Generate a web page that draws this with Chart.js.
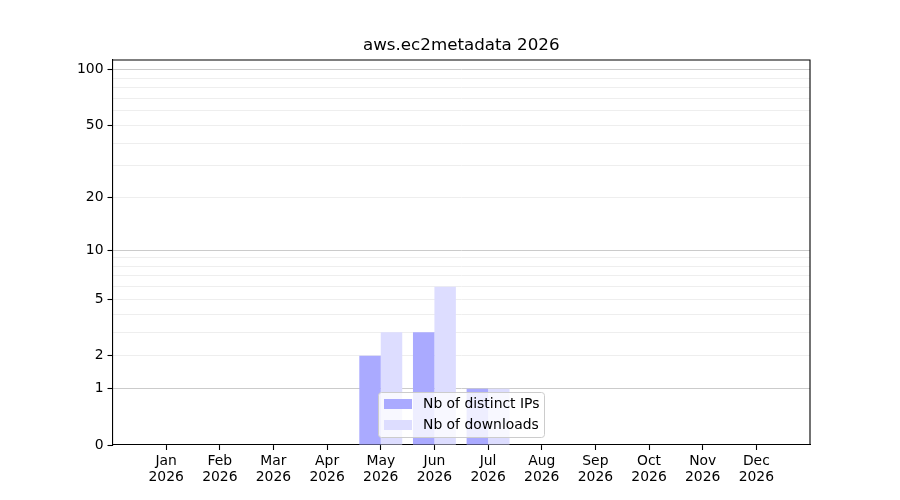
<!DOCTYPE html>
<html>
<head>
<meta charset="utf-8">
<script src="https://cdn.jsdelivr.net/npm/chart.js@4/dist/chart.umd.min.js"></script>
<style>
  html, body { margin: 0; padding: 0; background: #ffffff; }
  #wrap { width: 900px; height: 500px; }
</style>
</head>
<body>
<div id="wrap"><canvas id="c" width="900" height="500"></canvas></div>
<script>
// ---- data ----
const months = ['Jan', 'Feb', 'Mar', 'Apr', 'May', 'Jun', 'Jul', 'Aug', 'Sep', 'Oct', 'Nov', 'Dec'];
const yearLabel = '2026';
const titleText = 'aws.ec2metadata 2026';
const seriesNames = ['Nb of distinct IPs', 'Nb of downloads'];
const distinctIPs = [0, 0, 0, 0, 2, 3, 1, 0, 0, 0, 0, 0];
const downloads   = [0, 0, 0, 0, 3, 6, 1, 0, 0, 0, 0, 0];
const yTickValues = [0, 1, 2, 5, 10, 20, 50, 100];
const yMajorGrid  = [1, 10, 100];
const yMinorGrid  = [2, 3, 4, 5, 6, 7, 8, 9, 20, 30, 40, 50, 60, 70, 80, 90];
const yMax = 113;

// ---- styles ----
const FONT = 'DejaVu Sans';
const colIPs = '#aaaaff';
const colDl = '#ddddff';

// custom scale: y -> log10(1 + y)
class Log1pScale extends Chart.LinearScale {
  buildTicks() {
    const vals = Array.from(new Set([...yTickValues, ...yMajorGrid, ...yMinorGrid])).sort((a, b) => a - b);
    return vals.map(v => ({ value: v }));
  }
  _t(v) { return Math.log10(1 + v); }
  getPixelForValue(value) {
    if (value === null || value === undefined || isNaN(value)) return NaN;
    const t0 = this._t(this.min), t1 = this._t(this.max);
    return this.getPixelForDecimal((this._t(value) - t0) / (t1 - t0));
  }
  getValueForPixel(pixel) {
    const t0 = this._t(this.min), t1 = this._t(this.max);
    const d = this.getDecimalForPixel(pixel);
    return Math.pow(10, t0 + d * (t1 - t0)) - 1;
  }
}
Log1pScale.id = 'log1p';
Log1pScale.defaults = Chart.LinearScale.defaults;
Chart.register(Log1pScale);

const frameAndLegend = {
  id: 'frameAndLegend',
  afterDraw(chart) {
    const { ctx, chartArea: a } = chart;
    ctx.save();
    // top & right spines
    ctx.strokeStyle = '#000000';
    ctx.lineWidth = 1.1;
    ctx.beginPath();
    ctx.moveTo(a.left, a.top);
    ctx.lineTo(a.right, a.top);
    ctx.lineTo(a.right, a.bottom);
    ctx.stroke();

    // legend (inside the axes, lower centre)
    const bx = 378.5, by = 392.5, bw = 166, bh = 45, r = 3;
    ctx.beginPath();
    ctx.moveTo(bx + r, by);
    ctx.lineTo(bx + bw - r, by);
    ctx.quadraticCurveTo(bx + bw, by, bx + bw, by + r);
    ctx.lineTo(bx + bw, by + bh - r);
    ctx.quadraticCurveTo(bx + bw, by + bh, bx + bw - r, by + bh);
    ctx.lineTo(bx + r, by + bh);
    ctx.quadraticCurveTo(bx, by + bh, bx, by + bh - r);
    ctx.lineTo(bx, by + r);
    ctx.quadraticCurveTo(bx, by, bx + r, by);
    ctx.closePath();
    ctx.fillStyle = 'rgba(255,255,255,0.8)';
    ctx.fill();
    ctx.strokeStyle = '#cccccc';
    ctx.lineWidth = 1;
    ctx.stroke();

    ctx.font = '13.9px "' + FONT + '"';
    ctx.textBaseline = 'middle';
    ctx.textAlign = 'left';
    chart.data.datasets.forEach((ds, i) => {
      const rowY = 404 + i * 21;
      ctx.fillStyle = ds.backgroundColor;
      ctx.fillRect(384, rowY - 5, 28, 10);
      ctx.fillStyle = '#000000';
      ctx.fillText(ds.label, 423, rowY);
    });
    ctx.restore();
  }
};

const isLabeled = v => yTickValues.includes(v);

new Chart(document.getElementById('c'), {
  type: 'bar',
  data: {
    datasets: [
      { label: seriesNames[0], data: distinctIPs.map((v, i) => ({ x: i, y: v })), backgroundColor: colIPs, borderWidth: 0 },
      { label: seriesNames[1], data: downloads.map((v, i) => ({ x: i, y: v })), backgroundColor: colDl, borderWidth: 0 }
    ]
  },
  options: {
    responsive: false,
    animation: false,
    devicePixelRatio: 1,
    layout: { padding: { left: 0, right: 90, top: 0, bottom: 0 } },
    datasets: { bar: { categoryPercentage: 0.8, barPercentage: 1.0, grouped: true } },
    plugins: {
      legend: { display: false },
      tooltip: { enabled: false },
      title: {
        display: true,
        fullSize: false,
        text: titleText,
        color: '#000000',
        font: { family: FONT, size: 16.7, weight: 'normal', lineHeight: 1.2 },
        padding: { top: 36, bottom: 4 }
      }
    },
    scales: {
      x: {
        type: 'linear',
        min: -1,
        max: 12,
        offset: false,
        afterBuildTicks: s => { s.ticks = months.map((m, i) => ({ value: i })); },
        afterFit: s => { s.height = 55; },
        ticks: {
          autoSkip: false,
          maxRotation: 0,
          minRotation: 0,
          padding: 3,
          color: '#000000',
          font: { family: FONT, size: 13.9, lineHeight: 1.15 },
          callback: v => [months[v], yearLabel]
        },
        grid: { offset: false, drawOnChartArea: false, drawTicks: true, tickLength: 5, tickColor: '#000000', tickWidth: 1.1 },
        border: { display: true, color: '#000000', width: 1.1 }
      },
      y: {
        type: 'log1p',
        min: 0,
        max: yMax,
        afterFit: s => { s.width = 112.5; },
        ticks: {
          autoSkip: false,
          padding: 4,
          color: '#000000',
          font: { family: FONT, size: 13.9 },
          callback: v => isLabeled(v) ? String(v) : ''
        },
        grid: {
          drawOnChartArea: true,
          drawTicks: true,
          tickLength: 5,
          tickWidth: 1.1,
          lineWidth: 1,
          color: ctx => {
            const v = ctx.tick ? ctx.tick.value : null;
            if (v === 0) return 'rgba(0,0,0,0)';
            return yMajorGrid.includes(v) ? '#cbcbcb' : '#eeeeee';
          },
          tickColor: ctx => (ctx.tick && isLabeled(ctx.tick.value)) ? '#000000' : 'rgba(0,0,0,0)'
        },
        border: { display: true, color: '#000000', width: 1.1 }
      }
    }
  },
  plugins: [frameAndLegend]
});
</script>
</body>
</html>
